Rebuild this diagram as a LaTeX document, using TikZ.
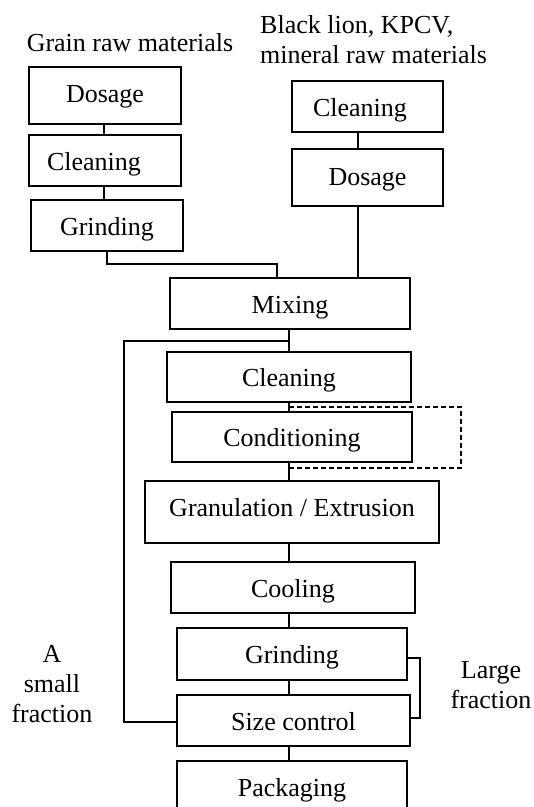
\documentclass[tikz,border=0pt]{standalone}
\usepackage{fontspec}
\setmainfont{Liberation Serif}
\begin{document}
\begin{tikzpicture}[x=1pt,y=-1pt,
  txt/.style={font=\fontsize{26}{30}\selectfont},
  box/.style={draw,line width=1.6pt,inner sep=0pt,txt,text height=19pt,text depth=0pt},
  conn/.style={line width=1.3pt},
  dashconn/.style={line width=1.3pt,dash pattern=on 5pt off 3pt},
  lbl/.style={txt,inner sep=0pt,align=center}]
\useasboundingbox (0,0) rectangle (534,807);
\clip (0,0) rectangle (534,807);
% left column
\node[box,minimum width=152pt,minimum height=57pt,text height=14pt] (dos1) at (105,95.5) {Dosage};
\node[box,minimum width=152pt,minimum height=51pt] (cln1) at (105,160.5) {\hspace*{-22pt}Cleaning};
\node[box,minimum width=152pt,minimum height=51pt] (grd1) at (107,225.5) {Grinding};
% right column
\node[box,minimum width=151pt,minimum height=51pt] (cln2) at (367.5,106.5) {\hspace*{-15pt}Cleaning};
\node[box,minimum width=151pt,minimum height=57pt,text height=15pt] (dos2) at (367.5,177.5) {Dosage};
% main column
\node[box,minimum width=240pt,minimum height=51pt] (mix) at (290,303.5) {Mixing};
\node[box,minimum width=244pt,minimum height=50pt] (cln3) at (289,377) {Cleaning};
\node[box,minimum width=240pt,minimum height=50pt] (cond) at (292,437) {Conditioning};
\node[box,minimum width=294pt,minimum height=62pt,text height=8pt] (gran) at (292,512) {Granulation / Extrusion};
\node[box,minimum width=244pt,minimum height=51pt] (cool) at (293,587.5) {Cooling};
\node[box,minimum width=230pt,minimum height=52pt] (grd2) at (292,654) {Grinding};
\node[box,minimum width=233pt,minimum height=51pt] (size) at (293.5,720.5) {Size control};
\node[box,minimum width=230pt,minimum height=51pt] (pack) at (292,786.5) {Packaging};
% labels
\node[lbl] (grain) at (130,43) {Grain raw materials};
\node[lbl,align=left,anchor=west] (black) at (260,40) {Black lion, KPCV,\\mineral raw materials};
\node[lbl] (small) at (52,684) {A\\small\\fraction};
\node[lbl] (large) at (491,685) {Large\\fraction};
% coordinates
\coordinate (m1) at (289,341);
\coordinate (d1) at (289,407);
\coordinate (d2) at (289,468);
% connectors left
\draw[conn] (104,124) -- (104,135);
\draw[conn] (104,186) -- (104,200);
\draw[conn] (grd1.south) -- (107,264) -| (277,278);
% right
\draw[conn] (358,132) -- (358,149);
\draw[conn] (358,206) -- (358,278);
% main
\draw[conn] (mix.south -| m1) -- (cln3.north -| m1);
\draw[conn] (cln3.south -| m1) -- (cond.north -| m1);
\draw[conn] (cond.south -| m1) -- (gran.north -| m1);
\draw[conn] (gran.south -| m1) -- (cool.north -| m1);
\draw[conn] (cool.south -| m1) -- (grd2.north -| m1);
\draw[conn] (grd2.south -| m1) -- (size.north -| m1);
\draw[conn] (size.south -| m1) -- (pack.north -| m1);
% dashed bypass
\draw[dashconn] (d1) -- (461,407) -- (461,468) -- (d2);
% small fraction feedback
\draw[conn] (size.west |- 0,722) -- (124,722) -- (124,341) -- (m1);
% large fraction loop
\draw[conn] (grd2.east |- 0,658) -- (420,658) -- (420,718) -- (size.east |- 0,718);
\end{tikzpicture}
\end{document}
